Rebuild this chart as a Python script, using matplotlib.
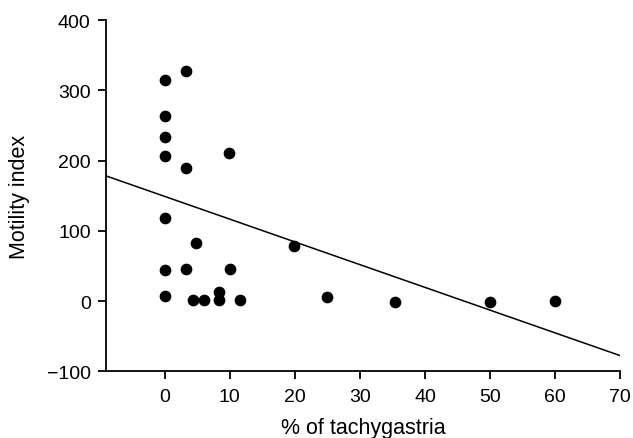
import matplotlib
matplotlib.use("Agg")
import matplotlib.pyplot as plt
import numpy as np

plt.rcParams['font.family'] = ['Liberation Sans', 'DejaVu Sans']

# % of tachygastria vs motility index
tachy = [0, 0, 0, 0, 0, 0, 0,
         3.3, 3.3, 3.3, 4.8, 4.3, 6.1, 8.3, 8.3,
         9.9, 10.0, 11.6, 19.8, 25.0, 35.4, 50.0, 60.0]
motility = [315, 263, 234, 206, 118, 44, 7,
            327, 189, 46, 82, 1, 1, 13, 1.5,
            211, 46, 1, 79, 6, -1, -1, 0.5]

# regression line as drawn
fit_intercept = 149
fit_slope = -3.24

xticks = [0, 10, 20, 30, 40, 50, 60, 70]
yticks = [-100, 0, 100, 200, 300, 400]

fig = plt.figure(figsize=(6.33, 4.39), dpi=100)
ax = fig.add_axes([0.1675, 0.152, 0.8125, 0.800])

ax.scatter(tachy, motility, s=55, color='black', zorder=3, clip_on=False)

xs = np.array([-9, 70])
ax.plot(xs, fit_intercept + fit_slope * xs, color='black', lw=1.1)

ax.set_xlim(-9, 70)
ax.set_ylim(-100, 400)
ax.set_xticks(xticks)
ax.set_yticks(yticks)

for s in ['top', 'right']:
    ax.spines[s].set_visible(False)
for s in ['left', 'bottom']:
    ax.spines[s].set_linewidth(1.3)

ax.tick_params(direction='out', length=6, width=1.3, labelsize=14, pad=5)
ax.tick_params(axis='x', pad=6)

ax.set_xlabel('% of tachygastria', fontsize=15.5, labelpad=9)
ax.set_ylabel('Motility index', fontsize=15.5, labelpad=12)

fig.savefig('out.png', dpi=100)
